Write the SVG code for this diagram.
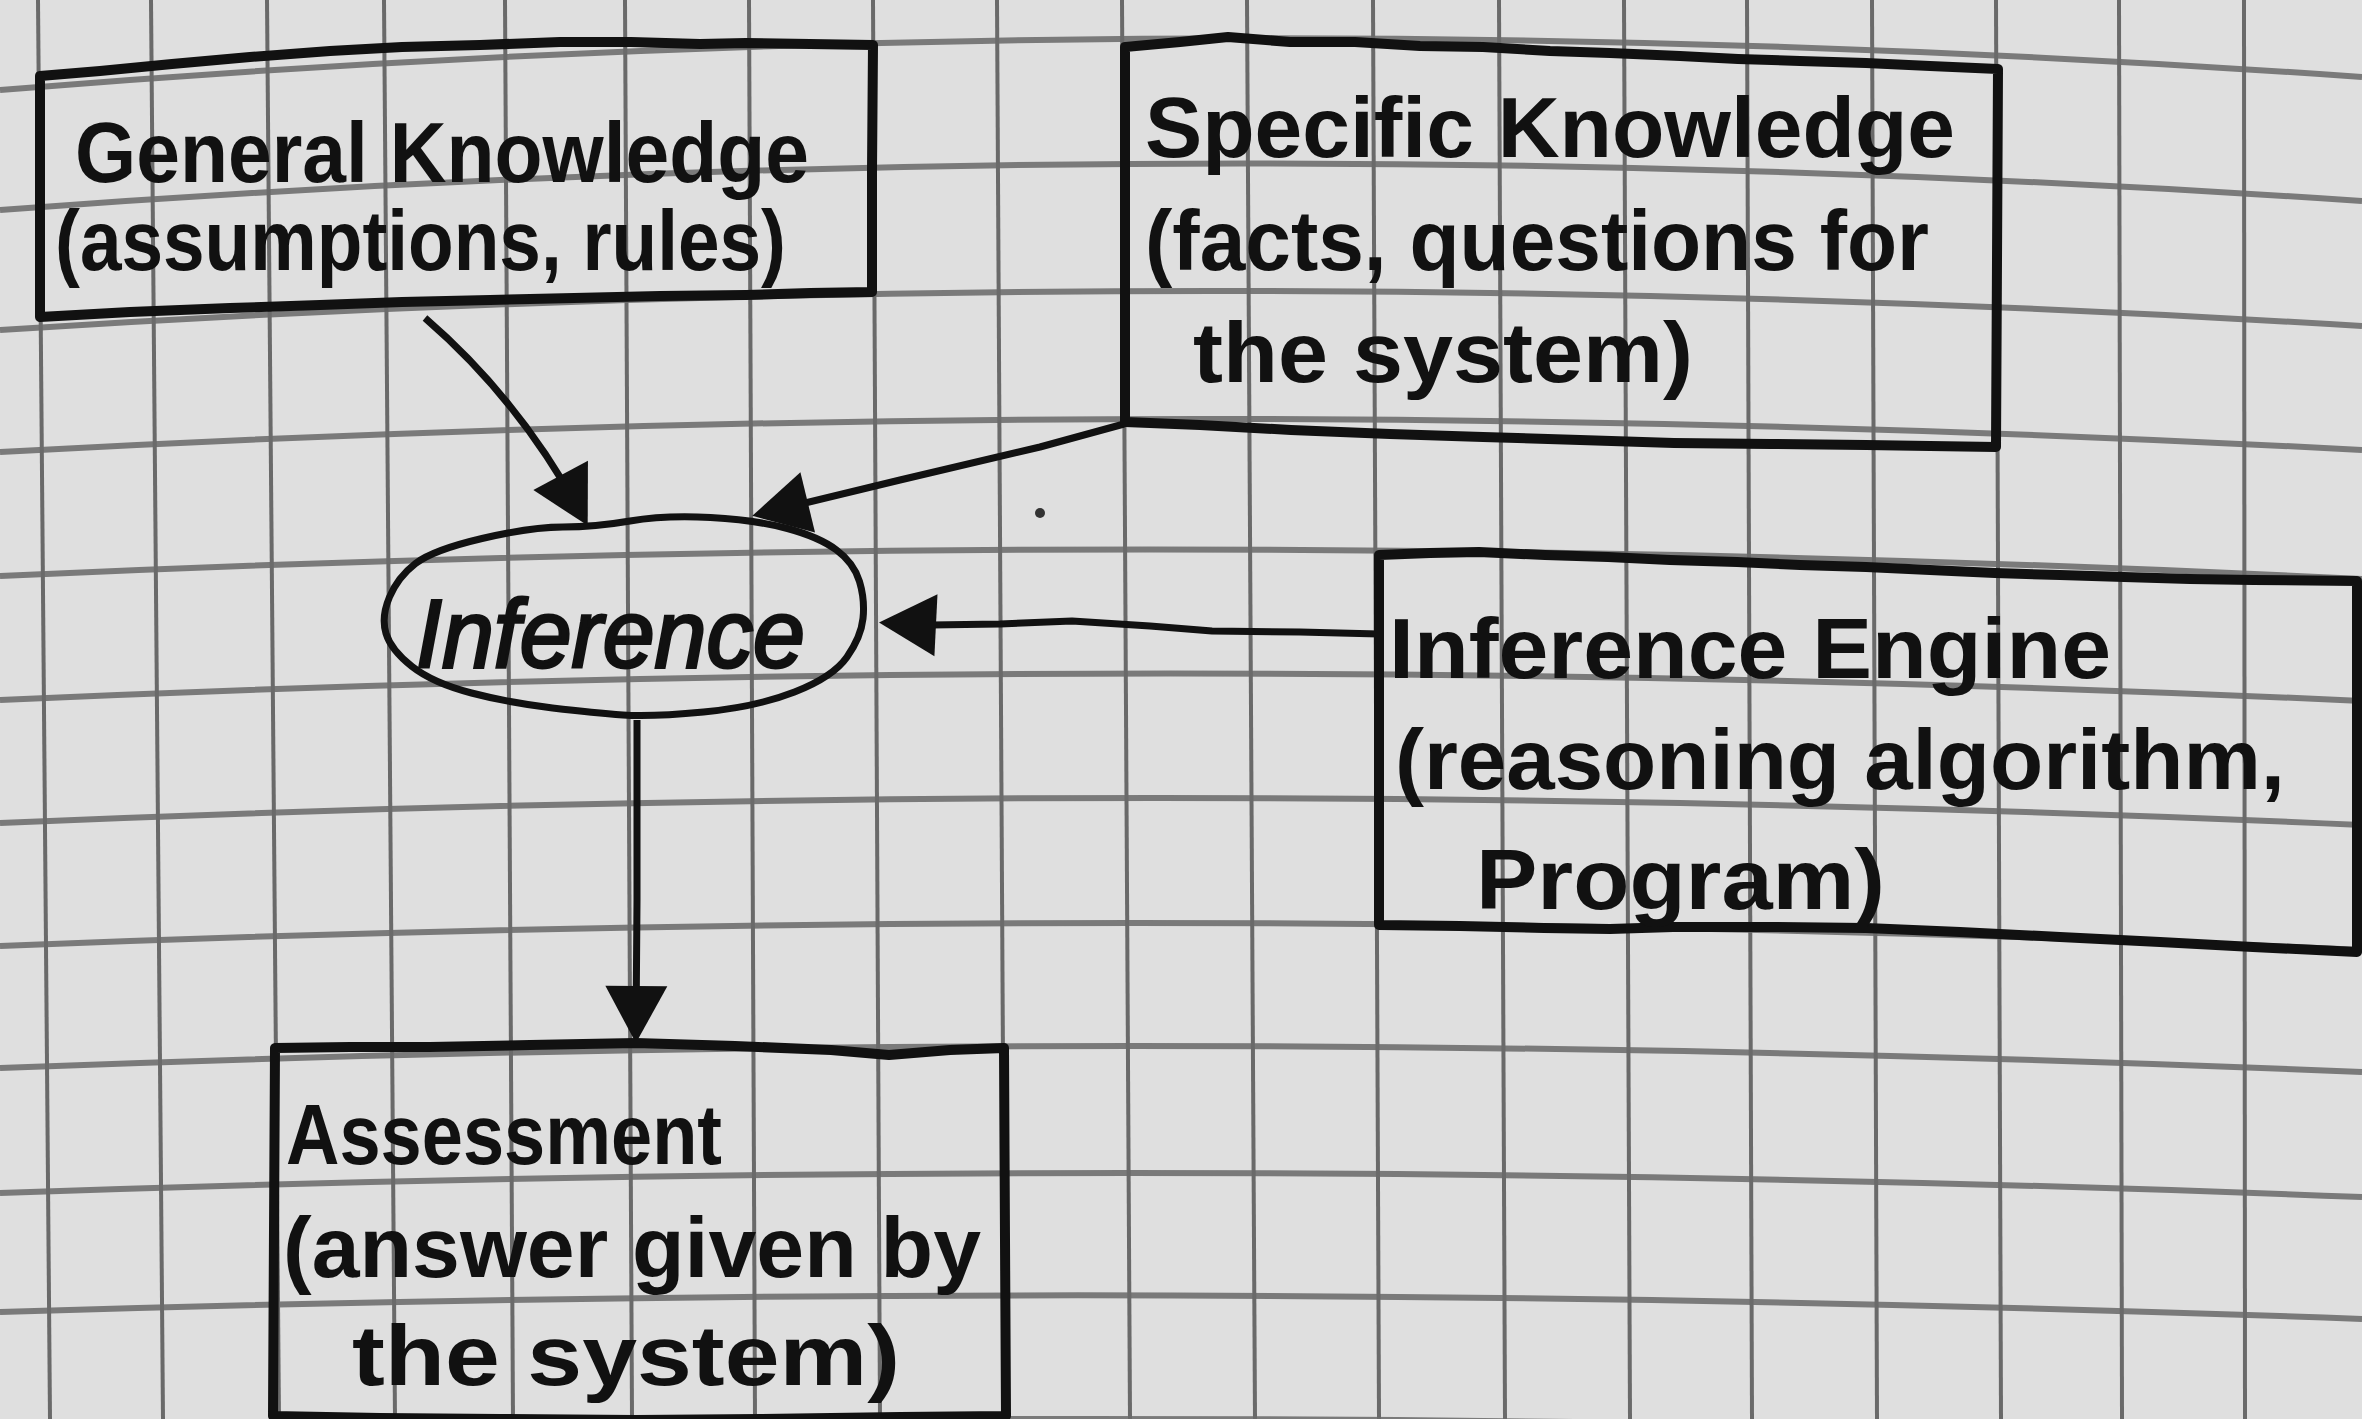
<svg xmlns="http://www.w3.org/2000/svg" width="2362" height="1419" viewBox="0 0 2362 1419">
  <style>
    .paper { fill: #dfdfdf; }
    .hline { fill: none; stroke: #7a7a7a; stroke-width: 6; }
    .vline { fill: none; stroke: #6a6a6a; stroke-width: 4; }
    .box { fill: none; stroke: #111111; stroke-width: 10; stroke-linejoin: round; stroke-linecap: round; }
    .oval { fill: none; stroke: #111111; stroke-width: 7; }
    .edge { fill: none; stroke: #111111; stroke-width: 7; stroke-linecap: butt; stroke-linejoin: round; marker-end: url(#head); }
    .label { font-family: "Liberation Sans", "DejaVu Sans", sans-serif; font-size: 86px; font-weight: bold; fill: #111111; }
    .big { font-size: 96px; font-style: italic; font-weight: normal; stroke: #111111; stroke-width: 3; }
  </style>
  <defs>
    <marker id="head" viewBox="-50 -36 64 72" refX="0" refY="0" markerWidth="64" markerHeight="72" markerUnits="userSpaceOnUse" orient="auto">
      <path d="M12,0 L-45,-31 L-45,31 Z" fill="#111111"/>
    </marker>
  </defs>

  <!-- squared paper -->
  <g id="paper">
    <rect class="paper" x="0" y="0" width="2362" height="1419"/>
    <g id="grid-h">
      <path class="hline" d="M0,90 Q1181,-6.5 2362,77"/>
      <path class="hline" d="M0,210 Q1181,121.5 2362,201"/>
      <path class="hline" d="M0,330 Q1181,254 2362,326"/>
      <path class="hline" d="M0,452 Q1181,387 2362,450"/>
      <path class="hline" d="M0,576 Q1181,521.5 2362,579"/>
      <path class="hline" d="M0,700 Q1181,646.5 2362,701"/>
      <path class="hline" d="M0,823 Q1181,772 2362,825"/>
      <path class="hline" d="M0,946 Q1181,898 2362,950"/>
      <path class="hline" d="M0,1068 Q1181,1022 2362,1072"/>
      <path class="hline" d="M0,1193 Q1181,1151 2362,1197"/>
      <path class="hline" d="M0,1312 Q1181,1275.5 2362,1319"/>
      <path class="hline" d="M0,1434 Q1181,1401 2362,1440"/>
    </g>
    <g id="grid-v">
      <path class="vline" d="M38,0 L50,1419"/>
      <path class="vline" d="M151,0 L163,1419"/>
      <path class="vline" d="M267,0 L279,1419"/>
      <path class="vline" d="M384,0 L395,1419"/>
      <path class="vline" d="M505,0 L513,1419"/>
      <path class="vline" d="M625,0 L632,1419"/>
      <path class="vline" d="M749,0 L755,1419"/>
      <path class="vline" d="M873,0 L880,1419"/>
      <path class="vline" d="M997,0 L1005,1419"/>
      <path class="vline" d="M1122,0 L1130,1419"/>
      <path class="vline" d="M1247,0 L1255,1419"/>
      <path class="vline" d="M1373,0 L1379,1419"/>
      <path class="vline" d="M1499,0 L1505,1419"/>
      <path class="vline" d="M1624,0 L1630,1419"/>
      <path class="vline" d="M1747,0 L1752,1419"/>
      <path class="vline" d="M1872,0 L1877,1419"/>
      <path class="vline" d="M1996,0 L2001,1419"/>
      <path class="vline" d="M2119,0 L2122,1419"/>
      <path class="vline" d="M2244,0 L2245,1419"/>
    </g>
    <circle cx="1040" cy="513" r="5" fill="#333333"/>
  </g>

  <!-- connectors -->
  <g id="connectors">
    <path class="edge" d="M425,318 Q520,400 582,515"/>
    <path class="edge" d="M1124,424 L1040,447 L900,480 L764,513"/>
    <path class="edge" d="M1379,634 L1300,632 L1212,631 L1150,626 L1072,621 L1000,624 L931,625 L891,623"/>
    <path class="edge" d="M637,720 L637,900 L636,1031"/>
  </g>

  <g id="general-knowledge">
    <path class="box" d="M40,76 L100,71 L172,64 L250,57 L330,51 L402,47 L480,45 L560,42 L631,42 L700,44 L746,43 L810,44 L873,45 L872,170 L872,292 L810,293 L746,295 L660,296 L574,298 L490,300 L402,302 L320,305 L230,308 L130,312 L40,317 L40,200 Z"/>
    <text class="label" x="75" y="182" textLength="734" lengthAdjust="spacingAndGlyphs">General Knowledge</text>
    <text class="label" x="55" y="270" textLength="731" lengthAdjust="spacingAndGlyphs">(assumptions, rules)</text>
  </g>

  <g id="specific-knowledge">
    <path class="box" d="M1125,47 L1180,42 L1228,37 L1290,42 L1355,42 L1420,46 L1483,47 L1550,51 L1610,53 L1680,56 L1738,59 L1800,61 L1866,63 L1930,66 L1998,69 L1997,260 L1996,447 L1930,446 L1866,445 L1770,444 L1674,443 L1580,440 L1483,437 L1390,434 L1291,430 L1200,425 L1125,422 L1125,230 Z"/>
    <text class="label" x="1145" y="157" textLength="810" lengthAdjust="spacingAndGlyphs">Specific Knowledge</text>
    <text class="label" x="1145" y="270" textLength="784" lengthAdjust="spacingAndGlyphs">(facts, questions for</text>
    <text class="label" x="1193" y="382" textLength="500" lengthAdjust="spacingAndGlyphs">the system)</text>
  </g>

  <g id="inference">
    <path class="oval" d="M386,633.5 Q381,617 389.5,597 Q398,577 415.5,563.5 Q433,550 482,538.5 Q531,527 563,527 Q595,527 630,521 Q665,515 710.5,517.5 Q756,520 787.5,528.5 Q819,537 836.5,550 Q854,563 859.5,581.5 Q865,600 863,618.5 Q861,637 847,657 Q833,677 794.5,692 Q756,707 703.5,712 Q651,717 623,715 Q595,713 552.5,708 Q510,703 471.5,693 Q433,683 412,666.5 Q391,650 386,633.5 Z"/>
    <text class="label big" x="416" y="667" textLength="389" lengthAdjust="spacingAndGlyphs">Inference</text>
  </g>

  <g id="inference-engine">
    <path class="box" d="M1379,555 L1430,553 L1479,552 L1545,555 L1608,557 L1670,560 L1737,562 L1800,565 L1866,567 L1930,570 L1995,573 L2060,575 L2124,577 L2190,579 L2253,580 L2357,581 L2357,760 L2357,952 L2253,947 L2160,942 L2060,937 L1960,932 L1866,928 L1770,927 L1673,927 L1610,929 L1544,928 L1460,926 L1379,925 L1379,740 Z"/>
    <text class="label" x="1389" y="678" textLength="722" lengthAdjust="spacingAndGlyphs">Inference Engine</text>
    <text class="label" x="1395" y="789" textLength="890" lengthAdjust="spacingAndGlyphs">(reasoning algorithm,</text>
    <text class="label" x="1476" y="909" textLength="409" lengthAdjust="spacingAndGlyphs">Program)</text>
  </g>

  <g id="assessment">
    <path class="box" d="M275,1048 L350,1047 L430,1047 L530,1045 L636,1043 L735,1046 L831,1050 L889,1055 L950,1050 L1004,1048 L1005,1240 L1006,1416 L900,1417 L760,1419 L636,1420 L500,1419 L380,1418 L273,1416 L274,1230 Z"/>
    <text class="label" x="286" y="1164" textLength="436" lengthAdjust="spacingAndGlyphs">Assessment</text>
    <text class="label" x="283" y="1277" textLength="698" lengthAdjust="spacingAndGlyphs">(answer given by</text>
    <text class="label" x="352" y="1385" textLength="548" lengthAdjust="spacingAndGlyphs">the system)</text>
  </g>
</svg>
